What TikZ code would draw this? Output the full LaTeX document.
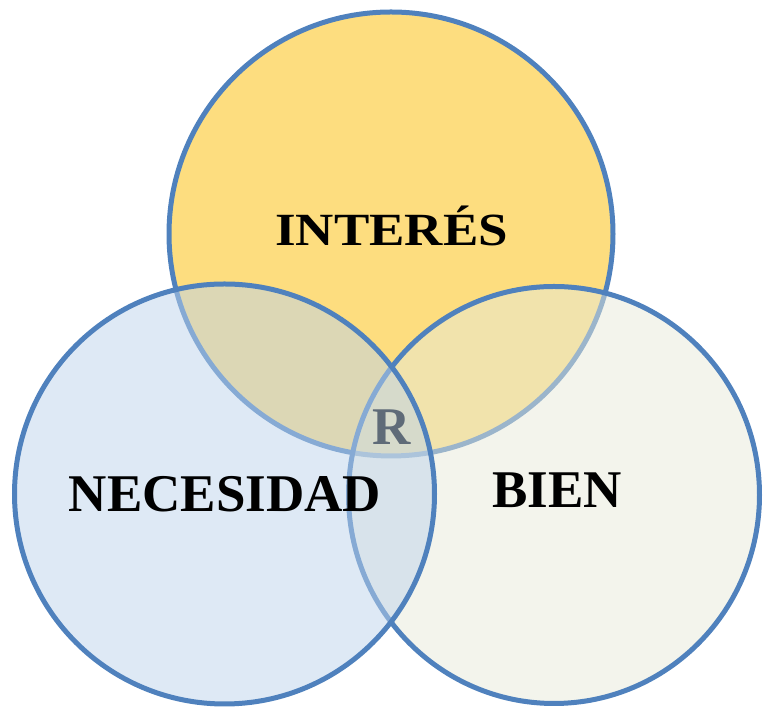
\documentclass[tikz,border=0pt]{standalone}
\usepackage{fontspec}
\setmainfont{Liberation Serif}
\definecolor{ringblue}{RGB}{79,129,189}
\definecolor{topfill}{RGB}{253,221,127}
\definecolor{leftfill}{RGB}{189,211,235}
\definecolor{rightfill}{RGB}{231,233,217}
\definecolor{rgray}{RGB}{95,107,120}
\tikzset{
  ring/.style={draw=ringblue, line width=5pt},
  label/.style={font=\fontsize{53}{53}\selectfont\bfseries, inner sep=0pt, anchor=base, text=black}
}
\begin{document}
\begin{tikzpicture}[x=1pt,y=1pt]
\useasboundingbox (0,0) rectangle (764,711);
% top circle (INTERES)
\path[ring, fill=topfill] (391,477) circle (222);
% right circle (BIEN)
\path[ring, fill=rightfill, fill opacity=0.5] (554,216) ellipse [x radius=205.5, y radius=208.5];
% left circle (NECESIDAD)
\path[ring, fill=leftfill, fill opacity=0.5] (224.5,217) circle (210);
% labels
\node[label, yscale=0.87] (interes) at (391.5,465) {INTERÉS};
\node[label] (necesidad) at (225,199) {NECESIDAD};
\node[label] (bien) at (557,203) {BIEN};
\node[label, text=rgray] (r) at (392,266) {R};
\end{tikzpicture}
\end{document}
